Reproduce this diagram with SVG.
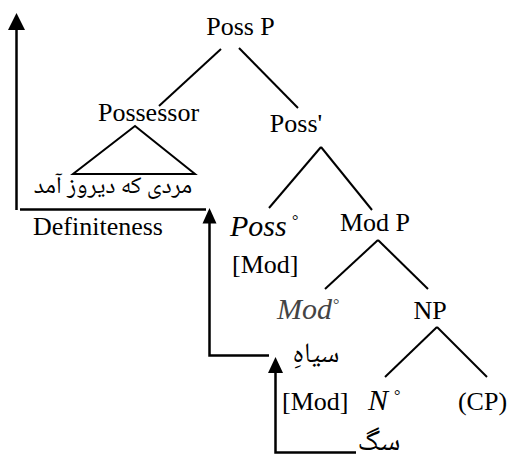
<svg xmlns="http://www.w3.org/2000/svg" width="510" height="463" viewBox="0 0 510 463">
<rect width="510" height="463" fill="#fff"/>
<g id="connectors" stroke="#000" stroke-width="2" fill="none">
<line x1="221" y1="49" x2="159" y2="106"/>
<line x1="239" y1="48" x2="298" y2="108"/>
<polygon points="135,126 73,174 195,174"/>
<line x1="321" y1="147" x2="269" y2="208"/>
<line x1="321" y1="147" x2="372" y2="210"/>
<line x1="378" y1="240" x2="325" y2="289"/>
<line x1="378" y1="240" x2="428" y2="289"/>
<line x1="437" y1="327" x2="385" y2="377"/>
<line x1="437" y1="327" x2="487" y2="377"/>
<g stroke-width="2.5">
<line x1="16.5" y1="210" x2="16.5" y2="28"/>
<line x1="20" y1="209.5" x2="206" y2="209.5"/>
<polyline points="269,355.5 209.5,355.5 209.5,222"/>
<polyline points="356,452.5 275.5,452.5 275.5,371"/>
</g>
<polygon points="16.5,13 8,30 25,30" fill="#000" stroke="none"/>
<polygon points="209.5,208 202.5,223.5 216.5,223.5" fill="#000" stroke="none"/>
<polygon points="275.5,357 268,373 283,373" fill="#000" stroke="none"/>
</g>
<g id="possP"><text font-family="Liberation Serif" font-size="26" x="240.5" y="35" text-anchor="middle">Poss P</text></g>
<g id="possessor"><text font-family="Liberation Serif" font-size="26" x="148.5" y="121" text-anchor="middle">Possessor</text></g>
<g id="possbar"><text font-family="Liberation Serif" font-size="26" x="296" y="132" text-anchor="middle">Poss'</text></g>
<g id="definiteness"><text font-family="Liberation Serif" font-size="26" x="98" y="235" text-anchor="middle">Definiteness</text></g>
<g id="posshead">
<text font-family="Liberation Serif" font-size="30" font-style="italic" x="230" y="236">Poss</text>
<text font-family="Liberation Serif" font-size="16" x="292" y="226">°</text>
<text font-family="Liberation Serif" font-size="26" x="232" y="273">[Mod]</text>
</g>
<g id="modP"><text font-family="Liberation Serif" font-size="26" x="375" y="231" text-anchor="middle">Mod P</text></g>
<g id="modhead">
<text font-family="Liberation Serif" font-size="30" font-style="italic" x="277" y="319" fill="#444">Mod</text>
<text font-family="Liberation Serif" font-size="16" x="333" y="310" fill="#444">°</text>
</g>
<g id="NP"><text font-family="Liberation Serif" font-size="26" x="430" y="319" text-anchor="middle">NP</text></g>
<g id="mod2"><text font-family="Liberation Serif" font-size="26" x="282" y="410">[Mod]</text></g>
<g id="Nhead">
<text font-family="Liberation Serif" font-size="30" font-style="italic" x="368" y="410">N</text>
<text font-family="Liberation Serif" font-size="16" x="394" y="401">°</text>
</g>
<g id="CP"><text font-family="Liberation Serif" font-size="26" x="482.5" y="410" text-anchor="middle">(CP)</text></g>
<g id="possessorPhrase"><text font-family="Noto Naskh Arabic, Noto Sans Arabic, DejaVu Sans" font-size="24" x="113" y="193" text-anchor="middle">مردی که دیروز آمد</text></g>
<g id="siyah"><text font-family="Noto Naskh Arabic, Noto Sans Arabic, DejaVu Sans" font-size="28" x="316" y="362" text-anchor="middle">سیاهِ</text></g>
<g id="sag"><text font-family="Noto Naskh Arabic, Noto Sans Arabic, DejaVu Sans" font-size="30" x="379" y="450" text-anchor="middle">سگ</text></g>
</svg>
